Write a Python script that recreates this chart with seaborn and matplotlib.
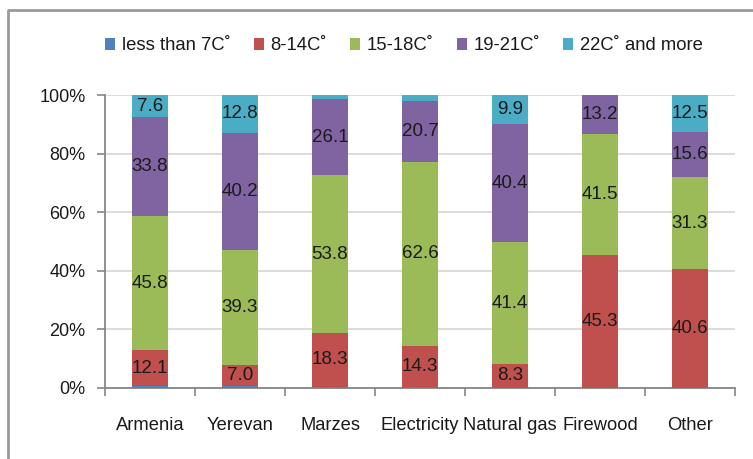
import matplotlib
matplotlib.use("Agg")
import matplotlib.pyplot as plt
from matplotlib.lines import Line2D
from matplotlib.patches import Patch
import seaborn as sns
import numpy as np

categories = ["Armenia", "Yerevan", "Marzes", "Electricity", "Natural gas", "Firewood", "Other"]
series_names = ["less than 7C\u02da", "8-14C\u02da", "15-18C\u02da", "19-21C\u02da", "22C\u02da and more"]
below_7 = [0.7, 0.7, 0.5, 0.2, 0.0, 0.0, 0.0]
c8_14 = [12.1, 7.0, 18.3, 14.3, 8.3, 45.3, 40.6]
c15_18 = [45.8, 39.3, 53.8, 62.6, 41.4, 41.5, 31.3]
c19_21 = [33.8, 40.2, 26.1, 20.7, 40.4, 13.2, 15.6]
c22_plus = [7.6, 12.8, 1.3, 2.2, 9.9, 0.0, 12.5]
# which segments carry a value label
labelled = [False, True, True, True, True]
min_label = 5.0

colors = ["#4F81BD", "#C0504D", "#9BBB59", "#8064A2", "#4BACC6"]
yticks = [0, 20, 40, 60, 80, 100]
ytick_labels = ["0%", "20%", "40%", "60%", "80%", "100%"]

sns.set_theme(style="white")
FONT = ["Liberation Sans", "DejaVu Sans"]
plt.rcParams["font.family"] = FONT

fig = plt.figure(figsize=(7.53, 4.59), dpi=100)
ax = fig.add_axes([105 / 753, 1 - 388 / 459, 630 / 753, 293 / 459])

values = np.array([below_7, c8_14, c15_18, c19_21, c22_plus])
totals = values.sum(axis=0)
shares = values / totals * 100
cum = np.cumsum(shares, axis=0)

# draw cumulative heights from the top down so each layer covers the one beneath
for i in range(len(series_names) - 1, -1, -1):
    sns.barplot(x=categories, y=cum[i], color=colors[i], width=0.4,
                saturation=1, ax=ax, zorder=3, linewidth=0)

# value labels centred in each segment
for i in range(len(series_names)):
    if not labelled[i]:
        continue
    for j in range(len(categories)):
        v = values[i, j]
        if v < min_label:
            continue
        bottom = cum[i, j] - shares[i, j]
        ax.text(j, bottom + shares[i, j] / 2, f"{v:.1f}", ha="center", va="center",
                fontsize=13.5, color="#1a1a1a", zorder=5)

ax.set_xlim(-0.5, len(categories) - 0.5)
ax.set_ylim(0, 100)
ax.set_yticks(yticks)
ax.set_yticklabels(ytick_labels, fontsize=13, color="#1a1a1a")
ax.set_xticks(range(len(categories)))
ax.set_xticklabels(categories, fontsize=13.2, color="#1a1a1a")
ax.tick_params(axis="x", length=0, pad=21)
ax.tick_params(axis="y", which="major", left=True, length=6, width=1.2,
               color="#868686", pad=8, direction="out")

# category separators below the axis
ax.set_xticks(np.arange(-0.5, len(categories), 1.0), minor=True)
ax.tick_params(axis="x", which="minor", bottom=True, length=6, width=1.2,
               color="#868686", direction="out")

ax.grid(axis="y", color="#D9D9D9", linewidth=1.3, zorder=0)
ax.set_axisbelow(True)
for side in ["top", "right"]:
    ax.spines[side].set_visible(False)
for side in ["left", "bottom"]:
    ax.spines[side].set_color("#868686")
    ax.spines[side].set_linewidth(1.3)
ax.set_xlabel("")
ax.set_ylabel("")

handles = [Patch(facecolor=c, edgecolor="none") for c in colors]
fig.legend(handles, series_names, loc="center", bbox_to_anchor=(404 / 753, 1 - 46 / 459),
           ncol=5, frameon=False, fontsize=13.3, handlelength=0.55, handleheight=0.55,
           handletextpad=0.35, columnspacing=1.25, labelcolor="#1a1a1a")

# outer frame of the chart area
fig.add_artist(Line2D([8 / 753, 8 / 753, 1.0], [0.0, 1 - 10 / 459, 1 - 10 / 459],
                      transform=fig.transFigure, color="#9A9A9A", linewidth=2))

fig.savefig("out.png", dpi=100)
